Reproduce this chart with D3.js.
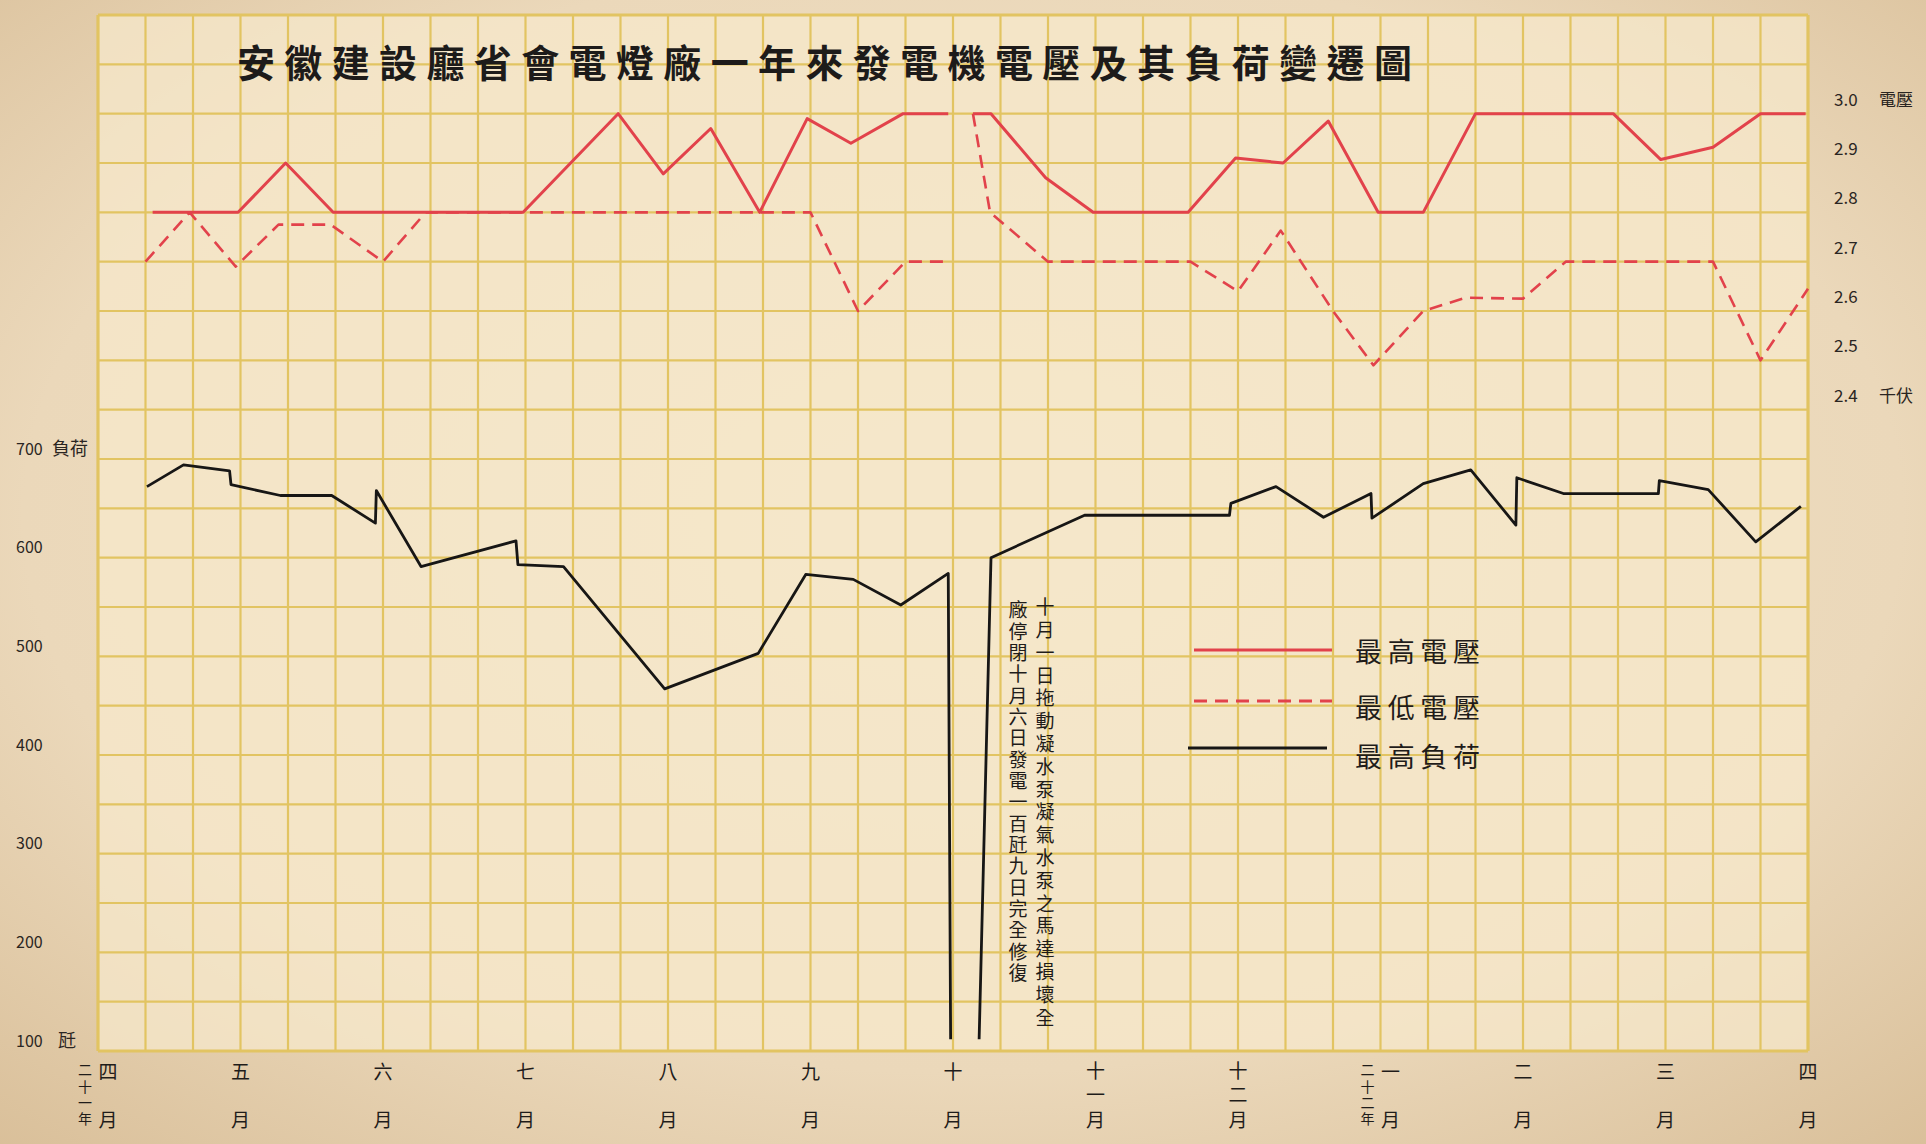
<!DOCTYPE html>
<html><head><meta charset="utf-8">
<script src="https://cdn.jsdelivr.net/npm/d3@7"></script>
<style>html,body{margin:0;padding:0;background:#e9d7b8;} svg{display:block;}
.vt{writing-mode:vertical-rl;text-orientation:upright;}</style>
</head><body>
<svg id="chart" width="1926" height="1144"></svg>
<script>
// ---------- data (x = ten-day period index from 1932 April; 3 per month) ----------
const title = "安徽建設廳省會電燈廠一年來發電機電壓及其負荷變遷圖";
const monthNums = ["四","五","六","七","八","九","十","十一","十二","一","二","三","四"];
const yearNotes = ["二十一年","","","","","","","","","二十二年","","",""];
const loadTicks = [700,600,500,400,300,200,100];
const voltTicks = [3.0,2.9,2.8,2.7,2.6,2.5,2.4];
const legendNames = ["最高電壓","最低電壓","最高負荷"];
const noteRight = "十月一日拖動凝水泵凝氣水泵之馬達損壞全";
const noteLeft  = "廠停閉十月六日發電一百瓩九日完全修復";

const maxVoltX  = [1.15,2.95,3.95,4.95,8.95,10.95,11.9,12.9,13.93,14.93,15.85,16.95,17.9,null,18.42,18.8,19.95,20.95,22.95,23.95,24.95,25.9,26.95,27.9,29,31.9,32.9,34,35,35.95];
const maxVoltKV = [2.8,2.8,2.9,2.8,2.8,3.0,2.878,2.97,2.8,2.99,2.94,3.0,3.0,null,3.0,3.0,2.87,2.8,2.8,2.91,2.9,2.985,2.8,2.8,3.0,3.0,2.907,2.932,3.0,3.0];

const minVoltX  = [1,1.93,2.9,3.8,4.9,6,6.9,15,16,17,17.9,null,18.42,18.6,18.78,20,23,24,24.9,26,26.85,27.9,28.8,30,30.9,34,35,36];
const minVoltKV = [2.7,2.8,2.69,2.775,2.775,2.7,2.8,2.8,2.6,2.7,2.7,null,3.0,2.9,2.8,2.7,2.7,2.64,2.763,2.6,2.49,2.6,2.627,2.625,2.7,2.7,2.5,2.645];

const maxLoadX  = [1.03,1.8,2.77,2.8,3.84,4.92,5.84,5.86,6.8,8.8,8.84,9.8,11.93,13.9,14.9,15.9,16.9,17.9,17.95,null,18.55,18.8,20.77,23.82,23.85,24.8,25.8,26.8,26.82,27.9,28.9,29.85,29.87,30.85,32.85,32.87,33.9,34.9,35.85];
const maxLoadKW = [672,694,688,674,663,663,635,668,591,617,593,591,467,503,583,578,552,584,112,null,112,600,643,643,655,672,641,665,640,675,689,633,681,665,665,678,669,616,652];

// ---------- setup ----------
const W = 1926, H = 1144;
const P = {left:98, right:1808, top:15, bottom:1051};
const svg = d3.select("#chart");
const FONT = "'Noto Sans CJK TC','Noto Sans CJK SC',sans-serif";

const x = d3.scaleLinear().domain([0,36]).range([P.left,P.right]);
const yLoad = d3.scaleLinear().domain([100,1150]).range([P.bottom,P.top]);
const yVolt = d3.scaleLinear().domain([1.1,3.2]).range([P.bottom,P.top]);

// paper background
const defs = svg.append("defs");
const rg = defs.append("radialGradient").attr("id","paper").attr("cx","50%").attr("cy","45%").attr("r","75%");
rg.append("stop").attr("offset","0%").attr("stop-color","#f1e3c6");
rg.append("stop").attr("offset","65%").attr("stop-color","#ebd8ba");
rg.append("stop").attr("offset","100%").attr("stop-color","#d9bf99");
svg.append("rect").attr("width",W).attr("height",H).attr("fill","url(#paper)");

svg.append("rect").attr("x",P.left).attr("y",P.top)
  .attr("width",P.right-P.left).attr("height",P.bottom-P.top)
  .attr("fill","#f7e9cc").attr("opacity",0.72);

// grid
const gridColor = "#e2c462";
const grid = svg.append("g");
grid.selectAll("line.v").data(d3.range(0,37)).join("line")
  .attr("x1",d=>x(d)).attr("x2",d=>x(d)).attr("y1",P.top).attr("y2",P.bottom)
  .attr("stroke",gridColor).attr("stroke-width",d=>(d===0||d===36)?3.2:2.2);
grid.selectAll("line.h").data(d3.range(100,1151,50)).join("line")
  .attr("y1",d=>yLoad(d)).attr("y2",d=>yLoad(d)).attr("x1",P.left).attr("x2",P.right)
  .attr("stroke",gridColor).attr("stroke-width",d=>(d===100||d===1150)?3.2:2.2);

// title
svg.append("text").attr("x",237).attr("y",60)
  .attr("textLength",1175).attr("lengthAdjust","spacing")
  .attr("dominant-baseline","central")
  .attr("font-family",FONT).attr("font-size",38).attr("font-weight",700)
  .attr("fill","#1d1b1a").text(title);

// left axis (load)
const gl = svg.append("g").call(d3.axisLeft(yLoad).tickValues(loadTicks).tickSize(0).tickFormat(d3.format("d")));
gl.select(".domain").remove();
gl.selectAll("text").attr("x",16).attr("y",-10).attr("text-anchor","start")
  .attr("font-family",FONT).attr("font-size",16).attr("fill","#2a2522");
svg.append("text").attr("x",52).attr("y",yLoad(700)-10).attr("dy","0.35em")
  .attr("font-family",FONT).attr("font-size",18).attr("fill","#2a2522").text("負荷");
svg.append("text").attr("x",58).attr("y",yLoad(100)-10).attr("dy","0.35em")
  .attr("font-family",FONT).attr("font-size",18).attr("fill","#2a2522").text("瓩");

// right axis (voltage)
const gr = svg.append("g").attr("transform","translate(1834,0)")
  .call(d3.axisRight(yVolt).tickValues(voltTicks).tickSize(0).tickFormat(d3.format(".1f")));
gr.select(".domain").remove();
gr.selectAll("text").attr("x",0).attr("y",-14).attr("text-anchor","start")
  .attr("font-family",FONT).attr("font-size",17).attr("fill","#2a2522");
svg.append("text").attr("x",1879).attr("y",yVolt(3.0)-14).attr("dy","0.35em")
  .attr("font-family",FONT).attr("font-size",17).attr("fill","#2a2522").text("電壓");
svg.append("text").attr("x",1879).attr("y",yVolt(2.4)-14).attr("dy","0.35em")
  .attr("font-family",FONT).attr("font-size",17).attr("fill","#2a2522").text("千伏");

// vertical text helper: one column of upright glyphs; top = top edge of first glyph
function vtext(g, str, cx, top, size, pitch){
  const t = g.append("text").attr("class","vt").attr("x",cx).attr("y",top)
    .attr("font-size",size).text(str);
  if (pitch && pitch !== size) t.attr("letter-spacing",(pitch-size)+"px");
  return t;
}

// month labels (vertical)
const ml = svg.append("g").attr("font-family",FONT).attr("fill","#1f1c1a");
monthNums.forEach((num,m)=>{
  const cx = x(m*3);
  const yr = yearNotes[m];
  const colX = yr ? cx+10 : cx;
  if (num.length===1) vtext(ml, num, colX, 1062.5, 19);
  else vtext(ml, num, colX, 1061.5, 19, 23.5);
  vtext(ml, "月", colX, 1110.5, 19);
  if (yr) vtext(ml, yr, cx-13, 1063, 14, 16.3);
});

// series
const toPts = (xs,vs)=>xs.map((d,i)=>[d,vs[i]]);
const lineV = d3.line().defined(d=>d[0]!=null&&d[1]!=null).x(d=>x(d[0])).y(d=>yVolt(d[1]));
const lineL = d3.line().defined(d=>d[0]!=null&&d[1]!=null).x(d=>x(d[0])).y(d=>yLoad(d[1]));
const RED = "#e2424b";

svg.append("path").datum(toPts(minVoltX,minVoltKV)).attr("d",lineV)
  .attr("fill","none").attr("stroke",RED).attr("stroke-width",2.6)
  .attr("stroke-dasharray","13,8").attr("stroke-linejoin","round");
svg.append("path").datum(toPts(maxVoltX,maxVoltKV)).attr("d",lineV)
  .attr("fill","none").attr("stroke",RED).attr("stroke-width",3)
  .attr("stroke-linejoin","round");
svg.append("path").datum(toPts(maxLoadX,maxLoadKW)).attr("d",lineL)
  .attr("fill","none").attr("stroke","#171615").attr("stroke-width",2.8)
  .attr("stroke-linejoin","round");

// annotation (vertical, right column first)
const an = svg.append("g").attr("font-family",FONT).attr("fill","#1f1c1a");
vtext(an, noteRight, 1045, 597.5, 19, 22.8);
vtext(an, noteLeft, 1018, 600.5, 19, 21.35);

// legend
const legY = [650,701,748];
const legStyles = [
  {stroke:RED, dash:null, x1:1194, x2:1332, w:3},
  {stroke:RED, dash:"13,8", x1:1194, x2:1332, w:2.8},
  {stroke:"#171615", dash:null, x1:1188, x2:1327, w:2.8}
];
const lg = svg.append("g");
legendNames.forEach((name,i)=>{
  const s = legStyles[i];
  lg.append("line").attr("x1",s.x1).attr("x2",s.x2).attr("y1",legY[i]).attr("y2",legY[i])
    .attr("stroke",s.stroke).attr("stroke-width",s.w).attr("stroke-dasharray",s.dash);
  lg.append("text").attr("x",1355).attr("y",[650,706,755][i])
    .attr("dominant-baseline","central").attr("textLength",125).attr("lengthAdjust","spacing")
    .attr("font-family",FONT).attr("font-size",27).attr("fill","#1f1c1a").text(name);
});
</script>
</body></html>
